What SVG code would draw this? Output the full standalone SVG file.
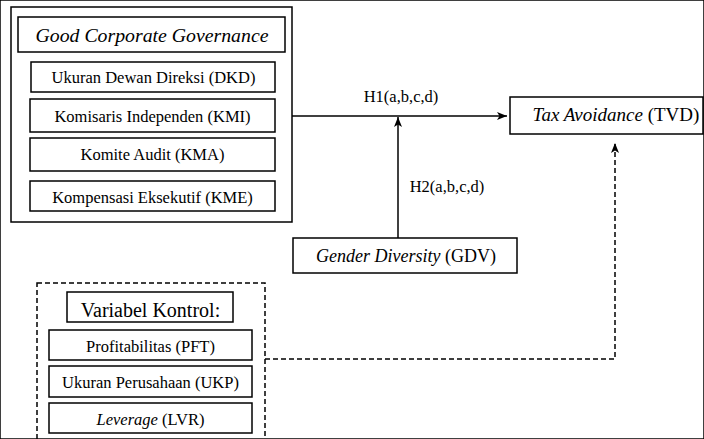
<svg xmlns="http://www.w3.org/2000/svg" width="704" height="439" viewBox="0 0 704 439">
<defs>
<marker id="ah" viewBox="0 0 10 10" refX="10" refY="5" markerWidth="10" markerHeight="10" markerUnits="userSpaceOnUse" orient="auto">
<path d="M0,1 L10,5 L0,9 L2.5,5 Z" fill="#000"/>
</marker>
<style>
rect{fill:#fff;stroke:#000;stroke-width:1.5}
.dash{fill:none;stroke-dasharray:5,3}
text{font-family:'Liberation Serif',serif;font-size:16.5px;fill:#000;text-anchor:middle}
.i{font-style:italic}
.line{stroke:#000;stroke-width:1.5;fill:none}
</style>
</defs>
<rect width="704" height="439" fill="#fff" stroke="none"/>
<g id="gcg">
<rect x="11" y="7" width="281" height="215"/>
<g id="gcg-title"><rect x="18" y="17" width="267" height="35"/><text x="152" y="42" style="font-size:19.8px"><tspan class="i">Good Corporate Governance</tspan></text></g>
<g id="dkd"><rect x="31" y="62" width="244" height="30"/><text x="153.5" y="83">Ukuran Dewan Direksi (DKD)</text></g>
<g id="kmi"><rect x="30" y="99" width="245" height="33"/><text x="152.5" y="122">Komisaris Independen (KMI)</text></g>
<g id="kma"><rect x="30" y="138" width="245" height="33"/><text x="152.5" y="160">Komite Audit (KMA)</text></g>
<g id="kme"><rect x="30" y="181" width="245" height="30"/><text x="152.5" y="203">Kompensasi Eksekutif (KME)</text></g>
</g>
<g id="tvd"><rect x="510" y="97" width="193" height="37"/><text x="616" y="121" style="font-size:19px"><tspan class="i">Tax Avoidance</tspan> (TVD)</text></g>
<g id="gdv"><rect x="293" y="238" width="224" height="35"/><text x="406" y="262" style="font-size:18px"><tspan class="i">Gender Diversity</tspan> (GDV)</text></g>
<g id="control">
<rect x="37" y="283" width="228" height="170" class="dash"/>
<g id="ctl-title"><rect x="67" y="292" width="166" height="30"/><text x="150.5" y="317" style="font-size:20px">Variabel Kontrol:</text></g>
<g id="pft"><rect x="49" y="330" width="203" height="30"/><text x="150.5" y="352">Profitabilitas (PFT)</text></g>
<g id="ukp"><rect x="49" y="366" width="203" height="31"/><text x="150.5" y="388">Ukuran Perusahaan (UKP)</text></g>
<g id="lvr"><rect x="49" y="403" width="203" height="30"/><text x="150.5" y="425"><tspan class="i">Leverage</tspan> (LVR)</text></g>
</g>
<g id="connectors">
<line x1="292" y1="116" x2="507" y2="116" class="line" marker-end="url(#ah)"/>
<text x="401" y="102">H1(a,b,c,d)</text>
<line x1="398" y1="238" x2="398" y2="117" class="line" marker-end="url(#ah)"/>
<text x="447" y="192">H2(a,b,c,d)</text>
<path d="M265,359 H615 V143" class="line" stroke-dasharray="5,3" marker-end="url(#ah)"/>
</g>
</svg>
